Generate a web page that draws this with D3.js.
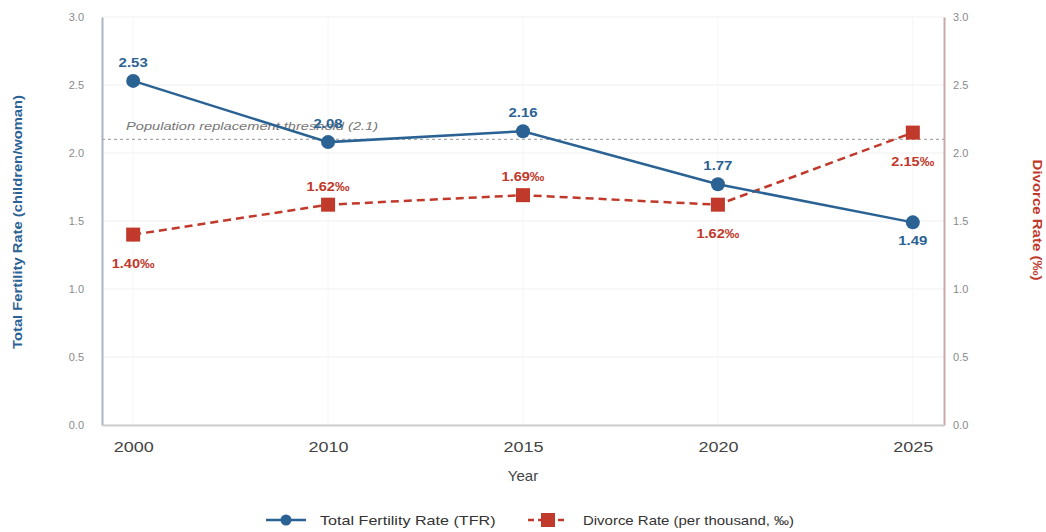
<!DOCTYPE html>
<html><head><meta charset="utf-8">
<script src="https://cdn.jsdelivr.net/npm/d3@7"></script>
<style>
html,body{margin:0;padding:0;background:#fff;}
svg{display:block;font-family:"Liberation Sans",Arial,sans-serif;}
</style></head>
<body><svg id="c" width="1046" height="532"></svg>
<script>
const years = ["2000","2010","2015","2020","2025"];
const tfr = [2.53,2.08,2.16,1.77,1.49];
const divorce = [1.40,1.62,1.69,1.62,2.15];
const tfrLabelPos = ["above","above","above","above","below"];
const divLabelPos = ["below","above","above","below","below"];
const yTicks = [0,0.5,1.0,1.5,2.0,2.5,3.0];
const threshold = 2.1;

const blue = "#2b6294", red = "#c0392b";
const svg = d3.select("#c");
const L = 102, R = 944, T = 17, B = 425;
const x = d3.scalePoint().domain(years).range([L, R]).padding(0.16);
const y = d3.scaleLinear().domain([0,3]).range([B, T]);
const y2 = d3.scaleLinear().domain([0,3]).range([B, T]);

function stretch(sel, r) {
  sel.each(function(){
    const w = this.getComputedTextLength();
    d3.select(this).attr("textLength", w*r).attr("lengthAdjust","spacingAndGlyphs");
  });
}

// grid
svg.append("g").selectAll("line").data(yTicks).join("line")
  .attr("x1", L).attr("x2", R).attr("y1", d=>y(d)).attr("y2", d=>y(d))
  .attr("stroke", "#f0f0f0").attr("stroke-width", 1);
svg.append("g").selectAll("line").data(years).join("line")
  .attr("x1", d=>x(d)).attr("x2", d=>x(d)).attr("y1", T).attr("y2", B)
  .attr("stroke", "#f6f6f6").attr("stroke-width", 1);

// axes
const yl = svg.append("g").attr("transform", `translate(${L},0)`)
  .call(d3.axisLeft(y).tickValues(yTicks).tickFormat(d3.format(".1f")).tickSize(0).tickPadding(18));
yl.select(".domain").attr("stroke", "#a9b6c4").attr("stroke-width", 2);
yl.selectAll("text").attr("fill", "#8a8a8a").attr("font-size", 11);

const yr = svg.append("g").attr("transform", `translate(${R},0)`)
  .call(d3.axisRight(y2).tickValues(yTicks).tickFormat(d3.format(".1f")).tickSize(0).tickPadding(9));
yr.select(".domain").attr("stroke", "#c9a8a8").attr("stroke-width", 2);
yr.selectAll("text").attr("fill", "#8a8a8a").attr("font-size", 11);

const xa = svg.append("g").attr("transform", `translate(0,${B})`)
  .call(d3.axisBottom(x).tickSize(0).tickPadding(16));
xa.select(".domain").attr("stroke", "#cccccc").attr("stroke-width", 2);
xa.selectAll("text").attr("fill", "#444").attr("font-size", 15);
stretch(xa.selectAll("text"), 1.2);

// axis titles
const t1 = svg.append("text").attr("transform", `translate(22,222) rotate(-90)`)
  .attr("text-anchor","middle").attr("fill", blue).attr("font-size", 12).attr("font-weight","bold")
  .text("Total Fertility Rate (children/woman)");
stretch(t1, 1.23);
const t2 = svg.append("text").attr("transform", `translate(1033,220) rotate(90)`)
  .attr("text-anchor","middle").attr("fill", red).attr("font-size", 12).attr("font-weight","bold")
  .text("Divorce Rate (‰)");
stretch(t2, 1.25);
svg.append("text").attr("x", (L+R)/2).attr("y", 481).attr("text-anchor","middle")
  .attr("fill","#444").attr("font-size", 15).text("Year");

// threshold
svg.append("line").attr("x1", L).attr("x2", R).attr("y1", y(threshold)).attr("y2", y(threshold))
  .attr("stroke","#aaaaaa").attr("stroke-width",1.2).attr("stroke-dasharray","3,3");
const th = svg.append("text").attr("x", L+24).attr("y", y(threshold)-9).attr("fill","#777")
  .attr("font-size", 11).attr("font-style","italic").text("Population replacement threshold (2.1)");
stretch(th, 1.33);

// lines
const dData = years.map((k,i)=>({k, v:divorce[i], p:divLabelPos[i]}));
const tData = years.map((k,i)=>({k, v:tfr[i], p:tfrLabelPos[i]}));
svg.append("path").datum(dData)
  .attr("d", d3.line().x(d=>x(d.k)).y(d=>y2(d.v)))
  .attr("fill","none").attr("stroke", red).attr("stroke-width",2.5).attr("stroke-dasharray","8,5");
svg.append("path").datum(tData)
  .attr("d", d3.line().x(d=>x(d.k)).y(d=>y(d.v)))
  .attr("fill","none").attr("stroke", blue).attr("stroke-width",2.5);

svg.append("g").selectAll("rect").data(dData).join("rect")
  .attr("x", d=>x(d.k)-7).attr("y", d=>y2(d.v)-7).attr("width",14).attr("height",14)
  .attr("fill", red);
svg.append("g").selectAll("circle").data(tData).join("circle")
  .attr("cx", d=>x(d.k)).attr("cy", d=>y(d.v)).attr("r",7).attr("fill", blue);

// labels
const tl = svg.append("g").selectAll("text").data(tData).join("text")
  .attr("x", d=>x(d.k)).attr("y", d=>d.p==="above" ? y(d.v)-14 : y(d.v)+23)
  .attr("text-anchor","middle").attr("fill", blue).attr("font-size",13).attr("font-weight","bold")
  .text(d=>d3.format(".2f")(d.v));
stretch(tl, 1.15);
const dl = svg.append("g").selectAll("text").data(dData).join("text")
  .attr("x", d=>x(d.k)).attr("y", d=>d.p==="above" ? y2(d.v)-14 : y2(d.v)+33)
  .attr("text-anchor","middle").attr("fill", red).attr("font-size",13).attr("font-weight","bold")
  .text(d=>d3.format(".2f")(d.v)+"‰");
stretch(dl, 1.12);

// legend
const lg = svg.append("g");
lg.append("line").attr("x1",266).attr("x2",306).attr("y1",520).attr("y2",520).attr("stroke",blue).attr("stroke-width",2.5);
lg.append("circle").attr("cx",286).attr("cy",520).attr("r",5.5).attr("fill",blue);
const lt1 = lg.append("text").attr("x",320).attr("y",524.5).attr("fill","#333").attr("font-size",13).text("Total Fertility Rate (TFR)");
stretch(lt1, 1.24);
lg.append("line").attr("x1",528).attr("x2",568).attr("y1",520).attr("y2",520).attr("stroke",red).attr("stroke-width",2.5).attr("stroke-dasharray","6,4");
lg.append("rect").attr("x",541).attr("y",513).attr("width",14).attr("height",14).attr("fill",red);
const lt2 = lg.append("text").attr("x",583).attr("y",524.5).attr("fill","#333").attr("font-size",13).text("Divorce Rate (per thousand, ‰)");
stretch(lt2, 1.15);
</script></body></html>
